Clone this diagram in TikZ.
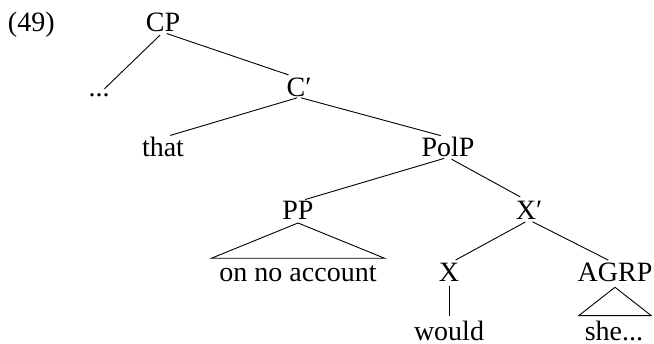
\documentclass[tikz,border=0pt]{standalone}
\usepackage{fontspec}
\setmainfont{Liberation Serif}
\begin{document}
\begin{tikzpicture}[x=1pt,y=-1pt,
  every node/.style={inner sep=0pt, outer sep=0pt, anchor=base, font=\fontsize{28}{32}\selectfont},
  edge/.style={line width=0.9pt, shorten <=4pt, shorten >=7.5pt},
  tri/.style={line width=0.9pt}]
\useasboundingbox (0,0) rectangle (654,344);
\node (ex) [anchor=base west] at (8,32) {(49)};
\node (cp) at (163,32) {CP};
\node (dots) at (99,97) {...};
\node (cbar) at (299,97) {C′};
\node (that) at (163,157) {that};
\node (polp) at (448,157) {PolP};
\node (pp) at (298,220) {PP};
\node (xbar) at (529,220) {X′};
\node (ona) at (298,282) {on no account};
\node (x) at (449,282) {X};
\node (agrp) at (615,282) {AGRP};
\node (would) at (449,341) {would};
\node (she) at (614,341) {she...};
\draw[edge] (cp.south) -- (dots.north);
\draw[edge, shorten >=11pt] (cp.south) -- (cbar.north);
\draw[edge, shorten <=2pt] (cbar.south) -- (that.north);
\draw[edge, shorten <=2pt] (cbar.south) -- (polp.north);
\draw[edge] (polp.south) -- (pp.north);
\draw[edge, shorten >=10pt] (polp.south) -- (xbar.north);
\draw[edge] (xbar.south) -- (x.north);
\draw[edge] (xbar.south) -- (agrp.north);
\draw[edge, shorten >=6pt] (x.south) -- (would.north);
\draw[tri] ([yshift=-3pt]pp.south) -- ([xshift=-8pt,yshift=8pt]ona.north west) -- ([xshift=8pt,yshift=8pt]ona.north east) -- cycle;
\draw[tri] ([yshift=-5pt]agrp.south) -- ([xshift=-6pt,yshift=6pt]she.north west) -- ([xshift=8pt,yshift=6pt]she.north east) -- cycle;
\end{tikzpicture}
\end{document}
